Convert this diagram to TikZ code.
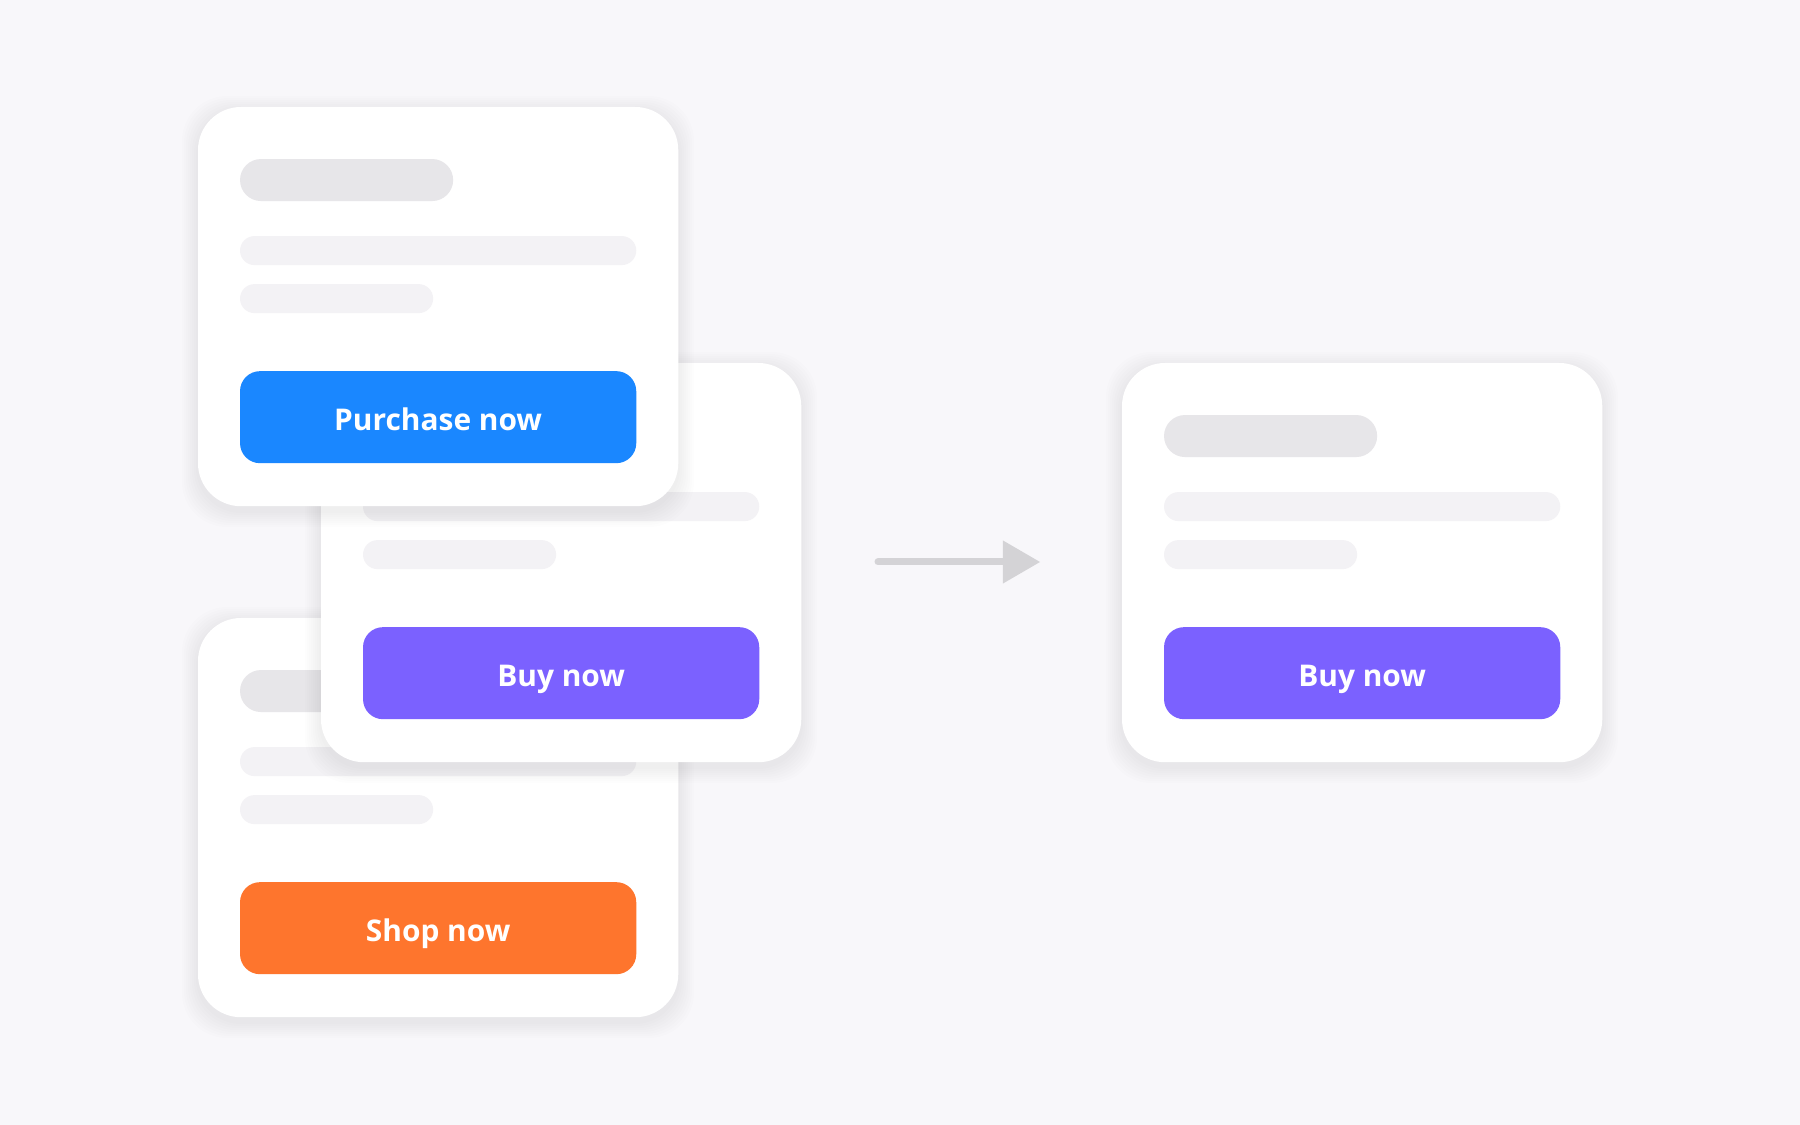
\documentclass[tikz,border=0pt]{standalone}
\usepackage{fontspec}
\setmainfont{Open Sans}
\usetikzlibrary{positioning,arrows.meta}

\definecolor{pagebg}{HTML}{F8F7FA}
\definecolor{skeldark}{HTML}{E7E6E9}
\definecolor{skellight}{HTML}{F3F2F5}
\definecolor{btnblue}{HTML}{1A87FF}
\definecolor{btnpurple}{HTML}{7B61FF}
\definecolor{btnorange}{HTML}{FE752D}
\definecolor{arrowgrey}{HTML}{D4D3D6}

% card: name, x, y (top left, px), button colour, button text
\newcommand{\skelcard}[5]{%
  % soft shadow
  \foreach \s in {2,4,...,16}
    \fill[shadowlayer] (#2-\s,#3-\s+5) rectangle (#2+480+\s,#3+399+\s+5);
  \node[card] (#1) at (#2,#3) {};
  \node[titlebar, below right=0.52cm and 0.42cm of #1.north west] (#1-title) {};
  \node[textbar, minimum width=3.96cm, below right=0.35cm and 0cm of #1-title.south west] (#1-line) {};
  \node[textbar, minimum width=1.93cm, below right=0.19cm and 0cm of #1-line.south west] (#1-short) {};
  \node[button, fill=#4, below right=0.58cm and 0cm of #1-short.south west] (#1-btn) {#5};
}

\begin{document}
\begin{tikzpicture}[x=0.01cm, y=-0.01cm, every node/.style={outer sep=0pt},
    shadowlayer/.style={black, opacity=0.0065, rounded corners=0.45cm},
    card/.style={anchor=north west, fill=white, rounded corners=0.43cm,
      minimum width=4.8cm, minimum height=3.99cm, inner sep=0pt},
    titlebar/.style={fill=skeldark, rounded corners=0.21cm, minimum width=2.13cm,
      minimum height=0.42cm, inner sep=0pt},
    textbar/.style={fill=skellight, rounded corners=0.145cm, minimum height=0.29cm, inner sep=0pt},
    button/.style={rounded corners=0.2cm, minimum width=3.96cm, minimum height=0.92cm,
      inner sep=0pt, text=white, text height=7.4pt, text depth=0pt,
      font=\fontsize{8.5}{10}\selectfont\bfseries}]
  \fill[pagebg] (0,0) rectangle (1800,1125);

  \skelcard{shop}{198}{618}{btnorange}{Shop now}
  \skelcard{buy}{321}{363}{btnpurple}{Buy now}
  \skelcard{purchase}{198}{107}{btnblue}{Purchase now}
  \skelcard{result}{1122}{363}{btnpurple}{Buy now}

  \coordinate (arrowstart) at (878,562);
  \coordinate (arrowend) at (1040,562);
  \draw[arrowgrey, line width=0.07cm, line cap=round,
    -{Triangle[length=0.37cm, width=0.43cm, line width=0pt]}] (arrowstart) -- (arrowend);
\end{tikzpicture}
\end{document}
